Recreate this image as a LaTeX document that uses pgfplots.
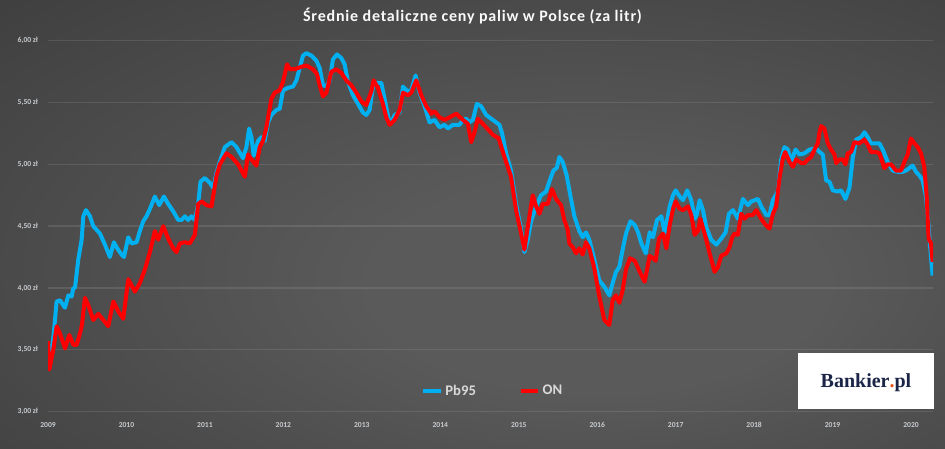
\documentclass[border=0pt]{standalone}
\usepackage{pgfplots}
\pgfplotsset{compat=1.18}
\usepackage{pgfplotstable}
\usepackage{fontspec}
\setmainfont{Carlito}
\newfontfamily\logofont{Liberation Serif}
\newfontfamily\titlefont[LetterSpace=5]{Carlito}
\definecolor{pbblue}{HTML}{00B0F0}
\definecolor{onred}{HTML}{FF0000}
\definecolor{bgin}{HTML}{5A5A5A}
\definecolor{bgout}{HTML}{222222}
\definecolor{tickgray}{HTML}{C8CCD0}
\definecolor{leggray}{HTML}{D9D9D9}
\definecolor{navy}{HTML}{1B2547}
\definecolor{dotorange}{HTML}{E8501E}
\pgfdeclareradialshading{bgshade}{\pgfpoint{8bp}{-8bp}}{color(0bp)=(bgin); color(12bp)=(bgin); color(72bp)=(bgout)}

\pgfplotstableread{
x y
2009.000 3.34
2009.040 3.48
2009.070 3.61
2009.110 3.89
2009.153 3.90
2009.216 3.84
2009.259 3.94
2009.301 3.93
2009.323 4.00
2009.344 4.00
2009.386 4.23
2009.429 4.39
2009.450 4.58
2009.484 4.63
2009.535 4.58
2009.577 4.50
2009.662 4.44
2009.726 4.35
2009.789 4.25
2009.840 4.37
2009.883 4.32
2009.938 4.27
2009.968 4.25
2010.023 4.41
2010.065 4.36
2010.129 4.37
2010.171 4.46
2010.214 4.54
2010.256 4.58
2010.299 4.64
2010.362 4.74
2010.418 4.67
2010.477 4.74
2010.532 4.68
2010.596 4.62
2010.660 4.55
2010.702 4.55
2010.744 4.58
2010.787 4.55
2010.829 4.58
2010.872 4.55
2010.914 4.68
2010.944 4.86
2010.999 4.89
2011.063 4.85
2011.105 4.81
2011.148 4.93
2011.190 5.02
2011.254 5.14
2011.339 5.18
2011.402 5.14
2011.486 5.05
2011.529 5.14
2011.563 5.29
2011.593 5.22
2011.622 5.07
2011.677 5.19
2011.720 5.22
2011.762 5.19
2011.805 5.34
2011.847 5.40
2011.911 5.44
2011.953 5.45
2011.996 5.60
2012.059 5.62
2012.123 5.63
2012.166 5.68
2012.208 5.78
2012.250 5.88
2012.293 5.90
2012.357 5.88
2012.420 5.84
2012.463 5.78
2012.505 5.64
2012.548 5.63
2012.590 5.68
2012.632 5.85
2012.683 5.89
2012.739 5.86
2012.781 5.81
2012.823 5.67
2012.887 5.56
2012.951 5.49
2013.014 5.42
2013.057 5.40
2013.099 5.44
2013.142 5.63
2013.184 5.66
2013.248 5.66
2013.290 5.53
2013.345 5.36
2013.375 5.34
2013.418 5.40
2013.481 5.42
2013.524 5.63
2013.587 5.59
2013.630 5.60
2013.685 5.72
2013.736 5.58
2013.800 5.47
2013.863 5.34
2013.927 5.36
2013.991 5.30
2014.054 5.32
2014.097 5.29
2014.160 5.32
2014.245 5.32
2014.288 5.36
2014.330 5.37
2014.372 5.34
2014.415 5.36
2014.466 5.49
2014.521 5.47
2014.584 5.40
2014.669 5.36
2014.754 5.32
2014.788 5.25
2014.839 5.09
2014.902 4.95
2014.966 4.68
2015.030 4.47
2015.072 4.29
2015.115 4.39
2015.157 4.54
2015.221 4.66
2015.284 4.75
2015.348 4.78
2015.390 4.86
2015.441 4.95
2015.484 4.97
2015.518 5.06
2015.560 5.02
2015.611 4.91
2015.654 4.76
2015.709 4.58
2015.772 4.46
2015.815 4.41
2015.857 4.45
2015.900 4.39
2015.963 4.23
2016.027 4.06
2016.091 4.01
2016.154 3.94
2016.197 4.04
2016.239 4.13
2016.282 4.17
2016.324 4.31
2016.367 4.44
2016.423 4.54
2016.478 4.51
2016.521 4.45
2016.563 4.36
2016.618 4.28
2016.669 4.45
2016.712 4.41
2016.762 4.55
2016.818 4.58
2016.860 4.45
2016.924 4.66
2016.966 4.75
2017.000 4.79
2017.051 4.74
2017.093 4.71
2017.148 4.79
2017.199 4.71
2017.242 4.56
2017.272 4.60
2017.305 4.71
2017.348 4.63
2017.390 4.49
2017.454 4.39
2017.518 4.35
2017.581 4.40
2017.636 4.45
2017.679 4.60
2017.730 4.63
2017.793 4.56
2017.857 4.72
2017.921 4.67
2017.963 4.70
2018.006 4.71
2018.048 4.72
2018.090 4.66
2018.154 4.59
2018.196 4.59
2018.239 4.71
2018.302 4.78
2018.345 5.04
2018.387 5.14
2018.430 5.12
2018.472 5.02
2018.527 5.12
2018.578 5.08
2018.642 5.09
2018.706 5.12
2018.790 5.13
2018.833 5.10
2018.875 5.08
2018.918 4.87
2018.960 4.86
2019.003 4.79
2019.066 4.78
2019.109 4.79
2019.164 4.72
2019.215 4.81
2019.257 5.05
2019.300 5.20
2019.363 5.22
2019.406 5.26
2019.448 5.22
2019.490 5.17
2019.554 5.17
2019.597 5.17
2019.639 5.12
2019.703 5.02
2019.766 4.95
2019.830 4.94
2019.894 4.94
2019.936 4.95
2019.978 4.97
2020.021 4.99
2020.063 4.94
2020.106 4.91
2020.148 4.87
2020.190 4.74
2020.224 4.49
2020.254 4.25
2020.275 4.10
}\pbdata

\pgfplotstableread{
x y
2009.000 3.57
2009.017 3.34
2009.068 3.50
2009.110 3.69
2009.153 3.63
2009.216 3.51
2009.272 3.62
2009.323 3.54
2009.365 3.54
2009.407 3.63
2009.433 3.70
2009.471 3.92
2009.514 3.86
2009.577 3.74
2009.641 3.79
2009.705 3.74
2009.768 3.69
2009.832 3.89
2009.896 3.81
2009.959 3.75
2010.023 4.07
2010.108 3.97
2010.171 4.04
2010.235 4.15
2010.299 4.29
2010.362 4.46
2010.405 4.39
2010.469 4.50
2010.532 4.40
2010.596 4.32
2010.638 4.29
2010.681 4.36
2010.744 4.37
2010.808 4.36
2010.872 4.43
2010.914 4.68
2010.957 4.70
2011.020 4.67
2011.084 4.66
2011.148 4.91
2011.190 5.00
2011.275 5.09
2011.339 5.06
2011.424 5.00
2011.508 4.90
2011.550 5.08
2011.593 5.04
2011.656 4.99
2011.699 5.14
2011.741 5.19
2011.784 5.30
2011.847 5.53
2011.890 5.58
2011.953 5.60
2011.996 5.67
2012.047 5.81
2012.081 5.77
2012.144 5.77
2012.229 5.79
2012.293 5.80
2012.378 5.77
2012.429 5.73
2012.463 5.64
2012.505 5.55
2012.548 5.58
2012.611 5.75
2012.675 5.77
2012.739 5.74
2012.802 5.68
2012.866 5.64
2012.930 5.58
2012.993 5.51
2013.057 5.48
2013.121 5.59
2013.150 5.68
2013.205 5.62
2013.269 5.49
2013.312 5.38
2013.354 5.32
2013.418 5.36
2013.481 5.44
2013.524 5.58
2013.587 5.56
2013.630 5.58
2013.694 5.68
2013.757 5.56
2013.821 5.47
2013.885 5.41
2013.927 5.43
2013.991 5.38
2014.054 5.36
2014.118 5.38
2014.203 5.41
2014.288 5.36
2014.351 5.33
2014.394 5.18
2014.436 5.26
2014.479 5.37
2014.584 5.30
2014.669 5.24
2014.745 5.21
2014.788 5.12
2014.839 5.02
2014.902 4.90
2014.966 4.63
2015.030 4.44
2015.072 4.31
2015.136 4.58
2015.178 4.75
2015.221 4.66
2015.263 4.60
2015.306 4.68
2015.369 4.68
2015.424 4.80
2015.475 4.72
2015.539 4.67
2015.581 4.55
2015.624 4.47
2015.645 4.36
2015.688 4.33
2015.730 4.28
2015.772 4.32
2015.815 4.27
2015.857 4.37
2015.900 4.32
2015.963 4.16
2016.027 3.93
2016.091 3.74
2016.154 3.70
2016.197 3.90
2016.239 3.94
2016.282 3.88
2016.324 3.98
2016.367 4.15
2016.418 4.24
2016.478 4.22
2016.542 4.13
2016.605 4.05
2016.669 4.26
2016.712 4.24
2016.745 4.22
2016.788 4.40
2016.839 4.44
2016.881 4.32
2016.924 4.51
2016.966 4.64
2017.000 4.70
2017.051 4.64
2017.093 4.63
2017.157 4.66
2017.199 4.59
2017.242 4.43
2017.284 4.46
2017.314 4.56
2017.369 4.44
2017.433 4.28
2017.496 4.13
2017.539 4.17
2017.581 4.26
2017.645 4.28
2017.687 4.33
2017.721 4.41
2017.751 4.44
2017.793 4.43
2017.836 4.60
2017.878 4.56
2017.921 4.59
2017.984 4.59
2018.027 4.63
2018.090 4.56
2018.146 4.51
2018.196 4.48
2018.239 4.60
2018.281 4.66
2018.324 4.89
2018.366 5.05
2018.396 5.10
2018.451 5.02
2018.493 4.98
2018.536 5.04
2018.600 5.01
2018.642 5.01
2018.684 5.04
2018.727 5.06
2018.769 5.12
2018.812 5.17
2018.833 5.26
2018.854 5.31
2018.896 5.29
2018.939 5.17
2018.981 5.12
2019.024 5.08
2019.045 5.01
2019.087 5.04
2019.130 5.04
2019.164 5.00
2019.193 5.09
2019.236 5.10
2019.278 5.18
2019.342 5.17
2019.406 5.20
2019.448 5.16
2019.490 5.10
2019.554 5.10
2019.597 5.09
2019.660 4.97
2019.703 5.00
2019.745 5.00
2019.809 4.95
2019.872 4.95
2019.915 5.02
2019.957 5.08
2019.999 5.21
2020.042 5.17
2020.084 5.14
2020.127 5.09
2020.169 4.98
2020.199 4.74
2020.224 4.40
2020.254 4.36
2020.275 4.21
}\ondata

\begin{document}
\begin{tikzpicture}
\path[use as bounding box] (0pt,0pt) rectangle (708.75pt,336.75pt);
\shade[shading=bgshade] (0pt,0pt) rectangle (708.75pt,336.75pt);
\node[text=white!95!gray, font=\titlefont\bfseries\fontsize{12}{14}\selectfont] at (354.4pt,324.5pt) {Średnie detaliczne ceny paliw w Polsce (za litr)};
\begin{axis}[
  at={(36pt,28.125pt)}, anchor=south west,
  scale only axis, width=663.75pt, height=278pt,
  xmin=2009, xmax=2020.28, ymin=3, ymax=6,
  axis line style={draw=none},
  major tick length=0pt,
  xtick={2009,2010,2011,2012,2013,2014,2015,2016,2017,2018,2019,2020},
  xticklabels={2009,2010,2011,2012,2013,2014,2015,2016,2017,2018,2019,2020},
  ytick={3,3.5,4,4.5,5,5.5,6},
  yticklabels={{3,00 zł},{3,50 zł},{4,00 zł},{4,50 zł},{5,00 zł},{5,50 zł},{6,00 zł}},
  ymajorgrids,
  major grid style={white, opacity=0.10, line width=1pt},
  ticklabel style={font=\bfseries\fontsize{5.7}{6}\selectfont, text=tickgray},
  yticklabel style={xshift=-4pt},
  xticklabel style={yshift=-4.5pt},
  legend columns=2,
  legend style={draw=none, fill=none, at={(0.503,0.055)}, anchor=center,
    font=\bfseries\fontsize{11}{12}\selectfont, text=leggray,
    /tikz/every even column/.append style={column sep=30pt}},
  legend image code/.code={\draw[#1, line width=3pt] (0pt,0pt) -- (13pt,0pt);},
  every axis plot/.append style={line width=3pt, line join=round},
]
\addplot[pbblue, mark=none] table {\pbdata};
\addlegendentry{Pb95}
\addplot[onred, mark=none] table {\ondata};
\addlegendentry{ON}
\end{axis}
\fill[white] (598.5pt,30pt) rectangle (700.5pt,72pt);
\node[text=navy, font=\logofont\bfseries\fontsize{15}{16}\selectfont] at (649.5pt,50pt) {Bankier\textcolor{dotorange}{.}pl};
\end{tikzpicture}
\end{document}
